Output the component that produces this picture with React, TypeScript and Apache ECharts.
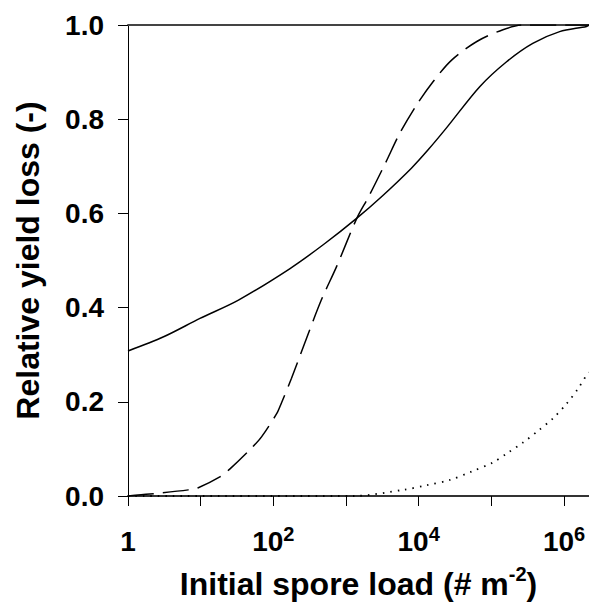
import React, { useEffect, useRef } from "react";
import * as echarts from "echarts";

// x values given as log10 exponents
const solidExp = [0, 0.49, 0.99, 1.52, 2.23, 2.7, 3.15, 3.5, 3.9, 4.13, 4.38, 4.84, 5.21, 5.57, 5.94, 6.31, 6.344];
const solidVal = [0.308, 0.338, 0.377, 0.416, 0.483, 0.535, 0.59, 0.637, 0.696, 0.735, 0.781, 0.869, 0.922, 0.961, 0.986, 0.997, 1.0];

const dashExp = [0, 0.3, 0.83, 0.96, 1.27, 1.4, 1.72, 1.84, 2.05, 2.11, 2.25, 2.43, 2.66, 2.87, 3.15, 3.31, 3.54, 3.74, 3.97, 4.2, 4.45, 4.8, 5.16, 5.44, 6.344];
const dashVal = [0, 0.004, 0.013, 0.017, 0.041, 0.057, 0.105, 0.126, 0.176, 0.197, 0.25, 0.324, 0.416, 0.487, 0.59, 0.635, 0.706, 0.77, 0.83, 0.88, 0.925, 0.965, 0.99, 1.0, 1.0];

const dotExp = [0, 3.1, 3.79, 4.11, 4.43, 4.73, 5.02, 5.23, 5.44, 5.64, 5.85, 6.03, 6.19, 6.32, 6.344];
const dotVal = [0, 0, 0.013, 0.023, 0.034, 0.052, 0.071, 0.092, 0.114, 0.138, 0.165, 0.195, 0.227, 0.259, 0.262];

const xTickValues = [1, 10, 100, 1000, 10000, 100000, 1000000];
const xLabelValues = [1, 100, 10000, 1000000];
const yTicks = [0, 0.2, 0.4, 0.6, 0.8, 1.0];

const xTitle = "Initial spore load (# m";
const xTitleSup = "-2";
const yTitle = "Relative yield loss (-)";

const FONT = "'Liberation Sans', Arial, sans-serif";

const toPairs = (exps: number[], vals: number[]) =>
  exps.map((e, i) => [Math.pow(10, e), vals[i]]);

export default function App() {
  const ref = useRef<HTMLDivElement>(null);
  useEffect(() => {
    if (!ref.current) return;
    const chart = echarts.init(ref.current, undefined, { renderer: "svg" });
    const xMax = Math.pow(10, 6.344);
    chart.setOption({
      animation: false,
      grid: { left: 128, right: 0, top: 25, bottom: 107, containLabel: false, outerBoundsMode: "none" },
      xAxis: [
        {
          type: "log",
          logBase: 10,
          min: 1,
          max: xMax,
          name: `{t|${xTitle}}{s|${xTitleSup}}{t|)}`,
          nameLocation: "middle",
          nameGap: 68,
          nameTextStyle: {
            rich: {
              t: { fontSize: 32, fontWeight: "bold", fontFamily: FONT, color: "#000", lineHeight: 40 },
              s: { fontSize: 20, fontWeight: "bold", fontFamily: FONT, color: "#000", lineHeight: 10, verticalAlign: "top" },
            },
          },
          axisLine: { show: true, lineStyle: { color: "#333", width: 2 } },
          axisTick: { show: true, length: 10, customValues: xTickValues, lineStyle: { color: "#000", width: 1 } },
          axisLabel: {
            show: true,
            customValues: xLabelValues,
            margin: 28,
            formatter: (v: number) => {
              if (v === 1) return "{b|1}";
              return `{b|10}{s|${Math.round(Math.log10(v))}}`;
            },
            rich: {
              b: { fontSize: 28, fontWeight: "bold", fontFamily: FONT, color: "#000", lineHeight: 34 },
              s: { fontSize: 20, fontWeight: "bold", fontFamily: FONT, color: "#000", lineHeight: 6, verticalAlign: "top" },
            },
          },
          splitLine: { show: false },
          minorTick: { show: false },
        },
        {
          type: "log",
          logBase: 10,
          min: 1,
          max: xMax,
          position: "top",
          axisLine: { show: true, lineStyle: { color: "#444", width: 2 } },
          axisTick: { show: false },
          axisLabel: { show: false },
          splitLine: { show: false },
        },
      ],
      yAxis: {
        type: "value",
        min: 0,
        max: 1,
        interval: 0.2,
        name: yTitle,
        nameLocation: "middle",
        nameGap: 84,
        nameTextStyle: { fontSize: 32, fontWeight: "bold", fontFamily: FONT, color: "#000" },
        axisLine: { show: true, onZero: false, lineStyle: { color: "#000", width: 1 } },
        axisTick: { show: true, length: 10, lineStyle: { color: "#000", width: 1 } },
        axisLabel: {
          margin: 24,
          fontSize: 28,
          fontWeight: "bold",
          fontFamily: FONT,
          color: "#000",
          formatter: (v: number) => (yTicks.indexOf(Math.round(v * 10) / 10) >= 0 ? v.toFixed(1) : ""),
        },
        splitLine: { show: false },
      },
      series: [
        {
          type: "line",
          data: toPairs(solidExp, solidVal),
          showSymbol: false,
          smooth: 0.3,
          lineStyle: { color: "#000", width: 1.5 },
        },
        {
          type: "line",
          data: toPairs(dashExp, dashVal),
          showSymbol: false,
          smooth: 0.3,
          lineStyle: { color: "#000", width: 1.5, type: [26, 9] },
        },
        {
          type: "line",
          data: toPairs(dotExp, dotVal),
          showSymbol: false,
          smooth: 0.3,
          lineStyle: { color: "#000", width: 1.8, type: [1.5, 6] },
        },
      ],
    });
    return () => chart.dispose();
  }, []);
  return (
    <div
      ref={ref}
      style={{ position: "fixed", left: 0, top: 0, width: 589, height: 603, background: "#fff" }}
    />
  );
}
